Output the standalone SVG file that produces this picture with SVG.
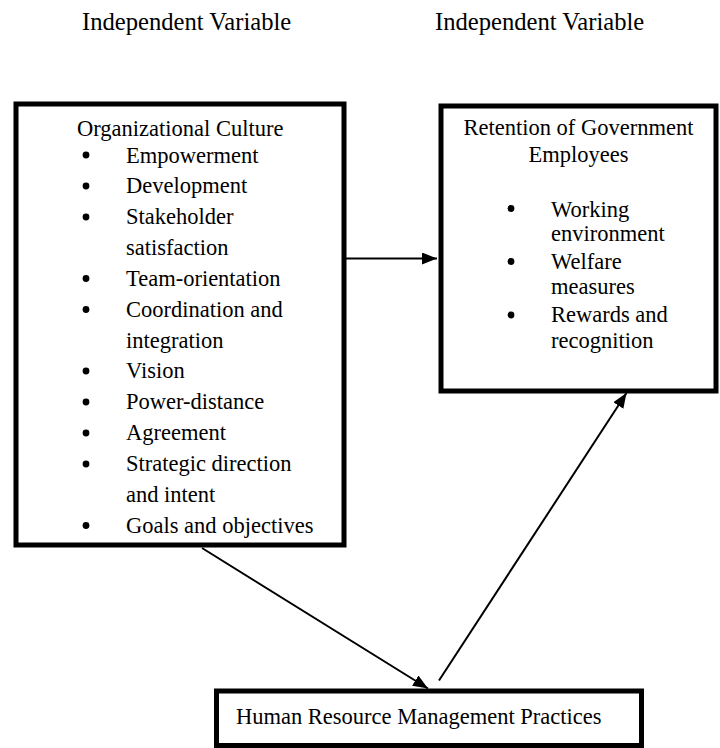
<svg xmlns="http://www.w3.org/2000/svg" width="720" height="748" viewBox="0 0 720 748" font-family="'Liberation Serif', 'Times New Roman', Times, serif">
<style>
text{font-family:'Liberation Serif','Times New Roman',Times,serif;fill:#000;font-size:22.5px}
.title{font-size:24.6px}
.box{fill:#fff;stroke:#000;stroke-width:5}
.conn{stroke:#000;stroke-width:2;fill:none}
</style>
<defs>
<marker id="ah" markerUnits="userSpaceOnUse" markerWidth="16" markerHeight="13" refX="15" refY="6" orient="auto">
<path d="M0,0 L15,6 L0,12 z" fill="#000"/>
</marker>
<circle id="b" r="3.4" fill="#000"/>
</defs>
<rect width="720" height="748" fill="#fff"/>
<text class="title" x="82" y="30">Independent Variable</text>
<text class="title" x="435" y="30">Independent Variable</text>

<g id="culture">
<rect class="box" x="16" y="104" width="328" height="441"/>
<text x="77" y="136">Organizational Culture</text>
<use href="#b" x="86" y="155"/><text x="126" y="162.5">Empowerment</text>
<use href="#b" x="86" y="186"/><text x="126" y="193.3">Development</text>
<use href="#b" x="86" y="217"/><text x="126" y="224.2">Stakeholder</text>
<text x="126" y="255">satisfaction</text>
<use href="#b" x="86" y="278.5"/><text x="126" y="285.9">Team-orientation</text>
<use href="#b" x="86" y="309.5"/><text x="126" y="316.7">Coordination and</text>
<text x="126" y="347.6">integration</text>
<use href="#b" x="86" y="371"/><text x="126" y="378.4">Vision</text>
<use href="#b" x="86" y="402"/><text x="126" y="409.3">Power-distance</text>
<use href="#b" x="86" y="433"/><text x="126" y="440.1">Agreement</text>
<use href="#b" x="86" y="464"/><text x="126" y="471">Strategic direction</text>
<text x="126" y="501.8">and intent</text>
<use href="#b" x="86" y="525.5"/><text x="126" y="532.7">Goals and objectives</text>
</g>

<g id="retention">
<rect class="box" x="441" y="106" width="275" height="285"/>
<text x="578.5" y="135" text-anchor="middle">Retention of Government</text>
<text x="578.5" y="161.5" text-anchor="middle">Employees</text>
<use href="#b" x="511" y="208.5"/><text x="551" y="216.5">Working</text>
<text x="551" y="241">environment</text>
<use href="#b" x="511" y="261.5"/><text x="551" y="268.5">Welfare</text>
<text x="551" y="294">measures</text>
<use href="#b" x="511" y="315"/><text x="551" y="321.5">Rewards and</text>
<text x="551" y="348">recognition</text>
</g>

<g id="hrm">
<rect class="box" x="216.5" y="691" width="425" height="54.5" stroke-width="4.5"/>
<text x="236" y="723.5">Human Resource Management Practices</text>
</g>

<g id="connectors">
<line class="conn" x1="346" y1="258.5" x2="437" y2="258.5" marker-end="url(#ah)"/>
<line class="conn" x1="202" y1="548" x2="428" y2="688.5" marker-end="url(#ah)"/>
<line class="conn" x1="439" y1="680.5" x2="626.5" y2="393" marker-end="url(#ah)"/>
</g>
</svg>
